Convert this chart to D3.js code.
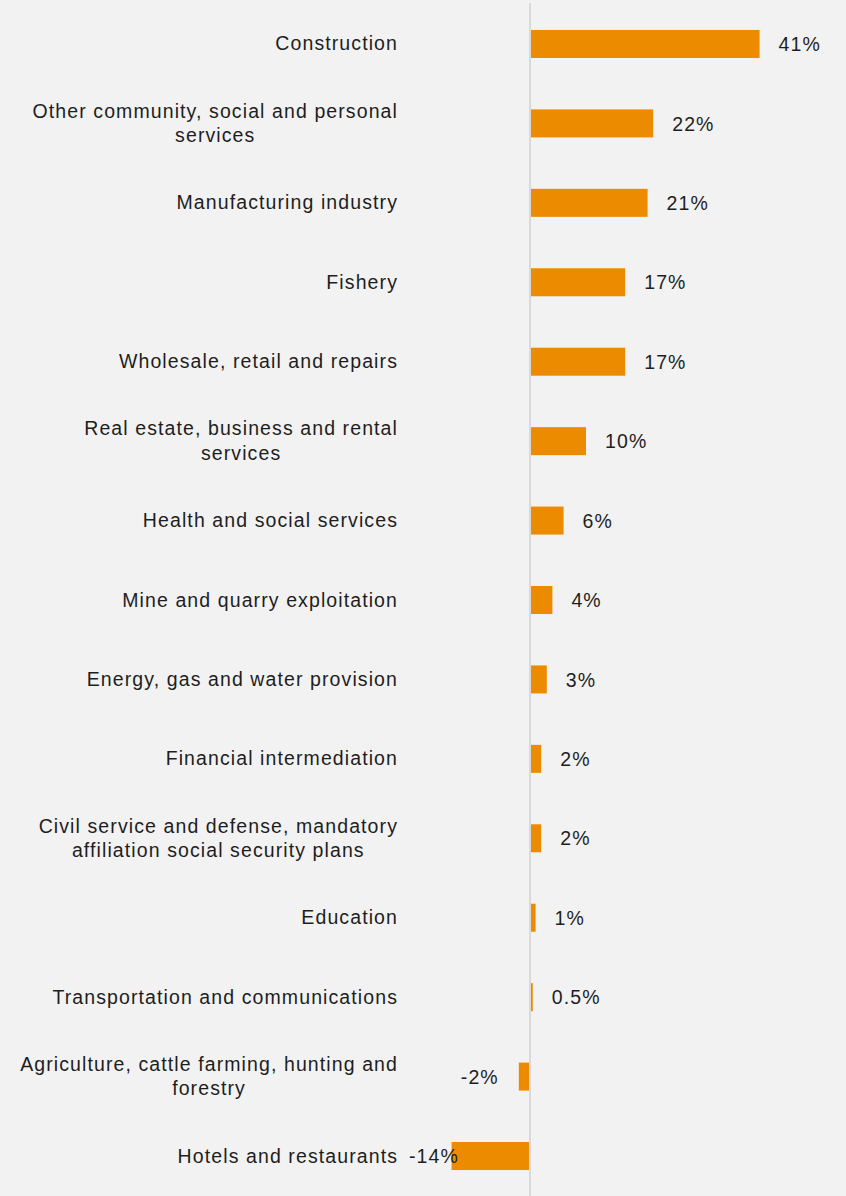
<!DOCTYPE html>
<html>
<head>
<meta charset="utf-8">
<script src="https://cdn.jsdelivr.net/npm/d3@7/dist/d3.min.js"></script>
<style>
  html, body { margin: 0; padding: 0; background: #f2f2f2; }
  svg { display: block; }
  text { font-family: "Liberation Sans", Arial, sans-serif; fill: #1e1e1e; }
</style>
</head>
<body>
<svg id="chart" width="846" height="1196"></svg>
<script>
// Sector categories (line breaks marked with "\n")
const categories = [
  "Construction",
  "Other community, social and personal\nservices",
  "Manufacturing industry",
  "Fishery",
  "Wholesale, retail and repairs",
  "Real estate, business and rental\nservices",
  "Health and social services",
  "Mine and quarry exploitation",
  "Energy, gas and water provision",
  "Financial intermediation",
  "Civil service and defense, mandatory\naffiliation social security plans",
  "Education",
  "Transportation and communications",
  "Agriculture, cattle farming, hunting and\nforestry",
  "Hotels and restaurants"
];

// Growth by sector, in percent
const values = [41, 22, 21, 17, 17, 10, 6, 4, 3, 2, 2, 1, 0.5, -2, -14];

const W = 846, H = 1196;
const labelRight = 398;      // right edge of category labels
const fontSize = 19.5;
const letterSpacing = 1.1;
const lineHeight = 24.5;

const svg = d3.select("#chart");
svg.append("rect").attr("width", W).attr("height", H).attr("fill", "#f2f2f2");

const x = d3.scaleLinear().domain([-20, 50]).range([418, 810]);

const y = d3.scaleBand()
  .domain(categories)
  .range([4, 1196])
  .paddingInner(0.6475)
  .paddingOuter(0.327);

const rows = categories.map((c, i) => ({ cat: c, value: values[i] }));

// bars
svg.append("g").selectAll("rect")
  .data(rows)
  .join("rect")
  .attr("x", d => Math.min(x(0), x(d.value)))
  .attr("y", d => y(d.cat))
  .attr("width", d => Math.abs(x(d.value) - x(0)))
  .attr("height", y.bandwidth())
  .attr("fill", "#ed8b00");

// zero line
svg.append("line")
  .attr("x1", x(0)).attr("x2", x(0))
  .attr("y1", 3).attr("y2", H)
  .attr("stroke", "#d9d9d9")
  .attr("stroke-width", 2);

// category labels: single lines right-aligned, wrapped lines centred on the longest line
const catG = svg.append("g");
rows.forEach(d => {
  const lines = d.cat.split("\n");
  const cy = y(d.cat) + y.bandwidth() / 2;
  const t = catG.append("text")
    .attr("font-size", fontSize)
    .attr("letter-spacing", letterSpacing);
  lines.forEach((ln, i) => {
    t.append("tspan")
      .attr("y", cy + (i - (lines.length - 1) / 2) * lineHeight + 6.5)
      .text(ln);
  });
  if (lines.length === 1) {
    t.attr("text-anchor", "end");
    t.selectAll("tspan").attr("x", labelRight);
  } else {
    let maxW = 0;
    t.selectAll("tspan").each(function () {
      maxW = Math.max(maxW, this.getComputedTextLength());
    });
    t.attr("text-anchor", "middle");
    t.selectAll("tspan").attr("x", labelRight - maxW / 2);
  }
});

// value labels
const fmt = v => v + "%";
const minLabelX = labelRight + 11;
const valG = svg.append("g");
rows.forEach(d => {
  const cy = y(d.cat) + y.bandwidth() / 2;
  const t = valG.append("text")
    .attr("font-size", fontSize)
    .attr("letter-spacing", letterSpacing)
    .attr("y", cy + 7.2)
    .text(fmt(d.value));
  const w = t.node().getComputedTextLength();
  let tx;
  if (d.value >= 0) {
    tx = x(d.value) + 19;
  } else {
    tx = Math.max(x(d.value) - 20 - w, minLabelX);
  }
  t.attr("x", tx);
});
</script>
</body>
</html>
